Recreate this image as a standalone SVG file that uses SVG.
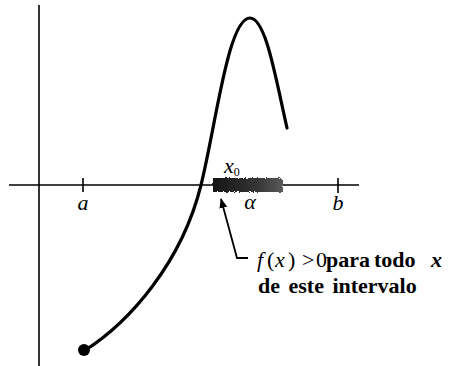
<svg xmlns="http://www.w3.org/2000/svg" width="453" height="366" viewBox="0 0 453 366">
<style>
.ax{stroke:#000;stroke-width:1.6;fill:none}
.crv{stroke:#000;stroke-width:3.2;fill:none;stroke-linecap:round}
.t{font-family:"Liberation Serif","Times New Roman",serif;font-size:22px;fill:#000}
.i{font-style:italic}
.b{font-weight:bold}
</style>
<defs>
<linearGradient id="band" x1="0" y1="0" x2="1" y2="0">
<stop offset="0" stop-color="#151515"/>
<stop offset="0.6" stop-color="#333"/>
<stop offset="1" stop-color="#5a5a5a"/>
</linearGradient>
<filter id="rough" x="-5%" y="-30%" width="110%" height="160%">
<feTurbulence type="fractalNoise" baseFrequency="0.8" numOctaves="2" seed="3" result="n"/>
<feDisplacementMap in="SourceGraphic" in2="n" scale="3" xChannelSelector="R" yChannelSelector="G"/>
</filter>
<marker id="ah" markerWidth="10" markerHeight="12" refX="9" refY="4" orient="auto" markerUnits="userSpaceOnUse">
<path d="M0,0 L10,4 L0,8 Z" fill="#000"/>
</marker>
</defs>
<g id="axes">
<line class="ax" x1="39" y1="5" x2="39" y2="366"/>
<line class="ax" x1="9" y1="185" x2="359" y2="185"/>
<line class="ax" x1="83" y1="178" x2="83" y2="192" stroke-width="2"/>
<line class="ax" x1="338" y1="178" x2="338" y2="193" stroke-width="2"/>
</g>
<g id="interval">
<rect x="213" y="178" width="70" height="14" fill="url(#band)" filter="url(#rough)"/>
</g>
<g id="curve">
<path class="crv" d="M84,351 C130,322 182,262 201,185 C216,125 228,18 250,18 C266,18 276,80 287,128"/>
<circle cx="84" cy="350" r="6" fill="#000"/>
</g>
<g id="labels">
<text class="t i" x="83" y="210" text-anchor="middle" font-size="21">a</text>
<text class="t i" x="250" y="209" text-anchor="middle" font-size="21">α</text>
<text class="t i" x="338" y="210" text-anchor="middle" font-size="21">b</text>
<text class="t i" x="224" y="173" font-size="18">x<tspan font-style="normal" font-size="12" dy="3">0</tspan></text>
</g>
<g id="connectors">
<path d="M248,258 L237,258 L221,199" stroke="#000" stroke-width="1.8" fill="none" marker-end="url(#ah)"/>
</g>
<g id="note">
<text class="t" x="257" y="267"><tspan class="i">f</tspan><tspan x="267">(</tspan><tspan x="275" class="i">x</tspan><tspan x="288">)</tspan><tspan x="302">&gt;</tspan><tspan x="316">0</tspan><tspan x="326" class="b">para</tspan><tspan x="374" class="b">todo</tspan><tspan x="431" class="i b">x</tspan></text>
<text class="t b" x="258" y="293" word-spacing="3">de este intervalo</text>
</g>
</svg>
